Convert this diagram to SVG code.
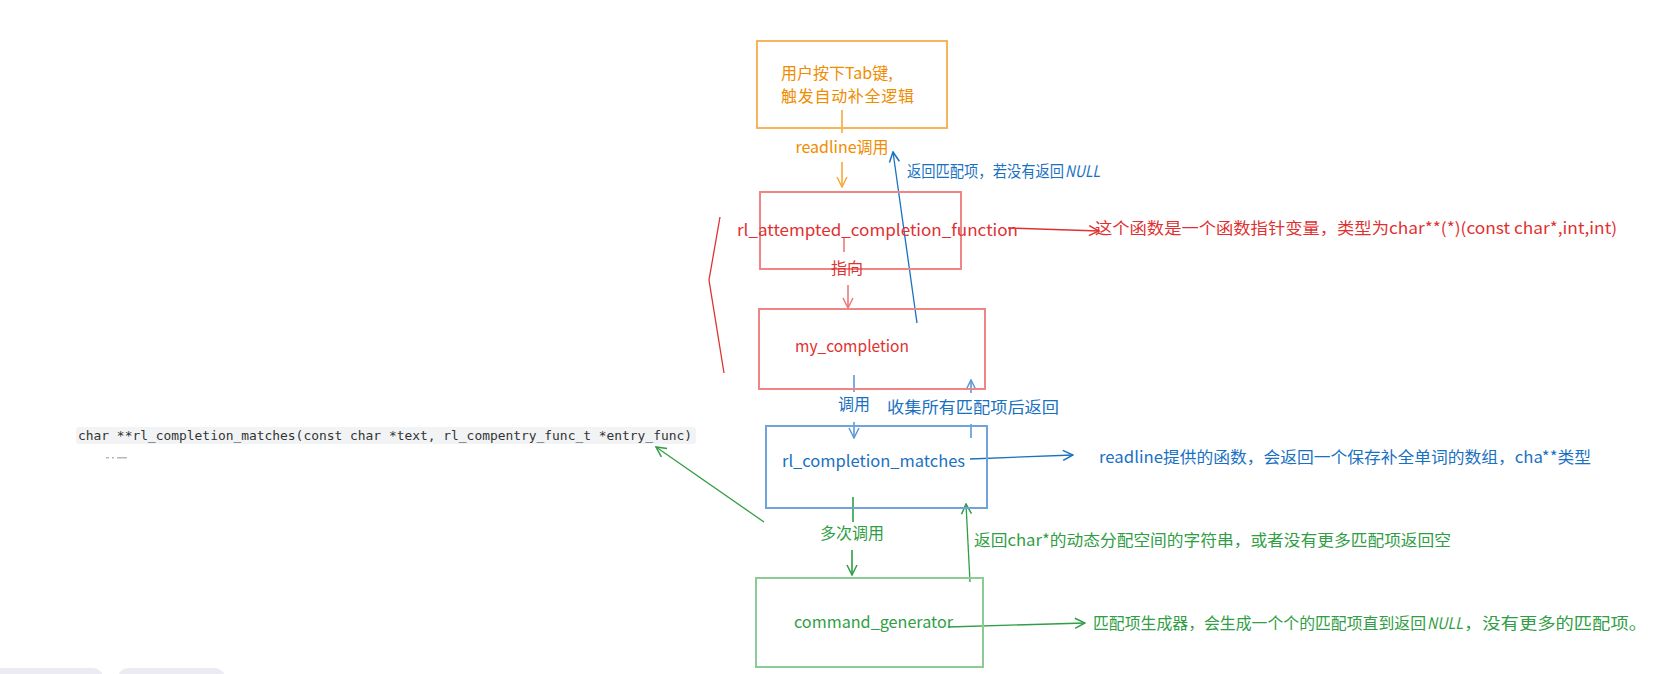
<svg xmlns="http://www.w3.org/2000/svg" width="1677" height="674" viewBox="0 0 1677 674">
<style>
text{font-family:"Noto Sans CJK SC","Noto Sans",sans-serif;font-size:16px}
.box{fill:none;stroke-width:2}
.conn{fill:none;stroke-width:1.6}
.thin{fill:none;stroke-width:1.3}
.o{fill:#f08c00}.r{fill:#e03131}.b{fill:#1971c2}.g{fill:#2f9e44}
.it{font-style:italic}
.code{font-family:"DejaVu Sans Mono","Liberation Mono",monospace;font-size:13px;fill:#333}
</style>
<defs>
<marker id="aO" viewBox="0 0 12 12" refX="11" refY="6" markerWidth="12" markerHeight="12" markerUnits="userSpaceOnUse" orient="auto"><path d="M1,1 L11,6 L1,11" fill="none" stroke="#f5a83c" stroke-width="1.5"/></marker>
<marker id="aRL" viewBox="0 0 12 12" refX="11" refY="6" markerWidth="12" markerHeight="12" markerUnits="userSpaceOnUse" orient="auto"><path d="M1,1 L11,6 L1,11" fill="none" stroke="#ec7a7a" stroke-width="1.5"/></marker>
<marker id="aR" viewBox="0 0 12 12" refX="11" refY="6" markerWidth="12" markerHeight="12" markerUnits="userSpaceOnUse" orient="auto"><path d="M1,1 L11,6 L1,11" fill="none" stroke="#e03131" stroke-width="1.5"/></marker>
<marker id="aBL" viewBox="0 0 12 12" refX="11" refY="6" markerWidth="12" markerHeight="12" markerUnits="userSpaceOnUse" orient="auto"><path d="M1,1 L11,6 L1,11" fill="none" stroke="#5b98d6" stroke-width="1.5"/></marker>
<marker id="aB" viewBox="0 0 12 12" refX="11" refY="6" markerWidth="12" markerHeight="12" markerUnits="userSpaceOnUse" orient="auto"><path d="M1,1 L11,6 L1,11" fill="none" stroke="#1971c2" stroke-width="1.5"/></marker>
<marker id="aG" viewBox="0 0 12 12" refX="11" refY="6" markerWidth="12" markerHeight="12" markerUnits="userSpaceOnUse" orient="auto"><path d="M1,1 L11,6 L1,11" fill="none" stroke="#2f9e44" stroke-width="1.5"/></marker>
</defs>
<rect width="1677" height="674" fill="#ffffff"/>

<g id="code-signature">
<rect x="76" y="427" width="620" height="17" rx="3" fill="#f2f3f5"/>
<text class="code" x="78" y="440" textLength="614" lengthAdjust="spacingAndGlyphs">char **rl_completion_matches(const char *text, rl_compentry_func_t *entry_func)</text>
<rect x="106" y="457" width="3" height="1.5" fill="#b8b8b8"/>
<rect x="112" y="457" width="2" height="1.5" fill="#b8b8b8"/>
<rect x="117" y="457" width="10" height="1.5" fill="#b8b8b8"/>
</g>

<g id="ui-tabs" fill="#ecebf3">
<rect x="-10" y="668" width="113" height="20" rx="10"/>
<rect x="118" y="668" width="107" height="20" rx="10"/>
</g>

<g id="connectors">
<line class="conn" x1="842" y1="110" x2="842" y2="133" stroke="#f5a83c"/>
<line class="conn" x1="842" y1="162" x2="842" y2="187" stroke="#f5a83c" marker-end="url(#aO)"/>
<line class="conn" x1="844" y1="237" x2="844" y2="252" stroke="#ec7a7a"/>
<line class="conn" x1="848" y1="285" x2="848" y2="308" stroke="#ec7a7a" marker-end="url(#aRL)"/>
<line class="thin" x1="1008" y1="228" x2="1099" y2="231" stroke="#e03131" marker-end="url(#aR)"/>
<polyline class="thin" points="720,217 709,280 724,373" stroke="#e03131"/>
<line class="thin" x1="917" y1="323" x2="893" y2="152" stroke="#1971c2" marker-end="url(#aB)"/>
<line class="conn" x1="854" y1="375" x2="854" y2="392" stroke="#5b98d6"/>
<line class="conn" x1="854" y1="422" x2="854" y2="438" stroke="#5b98d6" marker-end="url(#aBL)"/>
<line class="conn" x1="971" y1="438" x2="971" y2="424" stroke="#5b98d6"/>
<line class="conn" x1="971" y1="393" x2="971" y2="380" stroke="#5b98d6" marker-end="url(#aBL)"/>
<line class="thin" x1="970" y1="459" x2="1073" y2="455" stroke="#1971c2" marker-end="url(#aB)"/>
<line class="conn" x1="853" y1="497" x2="853" y2="522" stroke="#2f9e44"/>
<line class="conn" x1="852" y1="550" x2="852" y2="575" stroke="#2f9e44" marker-end="url(#aG)"/>
<line class="thin" x1="970" y1="582" x2="966" y2="504" stroke="#2f9e44" marker-end="url(#aG)"/>
<line class="thin" x1="764" y1="522" x2="656" y2="447" stroke="#2f9e44" marker-end="url(#aG)"/>
<line class="thin" x1="948" y1="627" x2="1085" y2="623" stroke="#2f9e44" marker-end="url(#aG)"/>
</g>

<g id="node-tab">
<rect class="box" x="757" y="41" width="190" height="87" stroke="#f7b45c"/>
<text class="o" x="781" y="79">用户按下Tab键,</text>
<text class="o" x="781" y="102" textLength="133">触发自动补全逻辑</text>
</g>
<g id="label-readline">
<text class="o" x="842" y="153" text-anchor="middle">readline调用</text>
</g>

<g id="node-attempted">
<rect class="box" x="760" y="192" width="201" height="77" stroke="#ef8585"/>
<text class="r" x="737" y="236" textLength="281" lengthAdjust="spacingAndGlyphs">rl_attempted_completion_function</text>
</g>
<g id="label-zhixiang">
<text class="r" x="847" y="274" text-anchor="middle">指向</text>
</g>
<g id="note-attempted">
<text class="r" x="1095" y="234" textLength="522" lengthAdjust="spacingAndGlyphs">这个函数是一个函数指针变量，类型为char**(*)(const char*,int,int)</text>
</g>

<g id="node-my-completion">
<rect class="box" x="759" y="309" width="226" height="80" stroke="#ef8585"/>
<text class="r" x="795" y="352" textLength="114" lengthAdjust="spacingAndGlyphs">my_completion</text>
</g>
<g id="label-return-null">
<text class="b" x="907" y="177" textLength="157" lengthAdjust="spacingAndGlyphs">返回匹配项，若没有返回</text>
<text class="b it" x="1065" y="177" textLength="35" lengthAdjust="spacingAndGlyphs">NULL</text>
</g>
<g id="label-call">
<text class="b" x="854" y="410" text-anchor="middle">调用</text>
</g>
<g id="label-collect">
<text class="b" x="887" y="413" textLength="172" lengthAdjust="spacingAndGlyphs">收集所有匹配项后返回</text>
</g>

<g id="node-matches">
<rect class="box" x="766" y="426" width="221" height="82" stroke="#6fa3db"/>
<text class="b" x="782" y="467" textLength="183" lengthAdjust="spacingAndGlyphs">rl_completion_matches</text>
</g>
<g id="note-matches">
<text class="b" x="1099" y="463" textLength="492" lengthAdjust="spacingAndGlyphs">readline提供的函数，会返回一个保存补全单词的数组，cha**类型</text>
</g>
<g id="label-multi-call">
<text class="g" x="852" y="539" text-anchor="middle">多次调用</text>
</g>
<g id="label-return-char">
<text class="g" x="974" y="546" textLength="477" lengthAdjust="spacingAndGlyphs">返回char*的动态分配空间的字符串，或者没有更多匹配项返回空</text>
</g>

<g id="node-generator">
<rect class="box" x="756" y="578" width="227" height="89" stroke="#8ccc94"/>
<text class="g" x="794" y="628" textLength="159" lengthAdjust="spacingAndGlyphs">command_generator</text>
</g>
<g id="note-generator">
<text class="g" x="1093" y="629" textLength="333" lengthAdjust="spacingAndGlyphs">匹配项生成器，会生成一个个的匹配项直到返回</text>
<text class="g it" x="1427" y="629" textLength="36" lengthAdjust="spacingAndGlyphs">NULL</text>
<text class="g" x="1464" y="629" textLength="183" lengthAdjust="spacingAndGlyphs">，没有更多的匹配项。</text>
</g>
</svg>
